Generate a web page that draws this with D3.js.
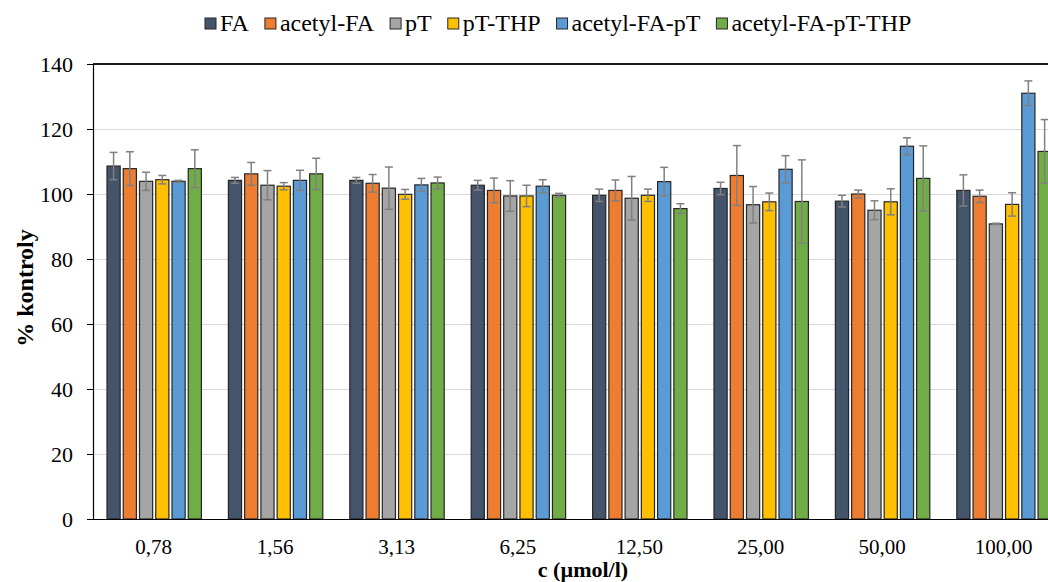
<!DOCTYPE html>
<html>
<head>
<meta charset="utf-8">
<script src="https://cdn.jsdelivr.net/npm/d3@7"></script>
<style>
  html, body { margin: 0; padding: 0; background: #fff; }
  svg { display: block; }
</style>
</head>
<body>
<svg id="chart" width="1048" height="582"></svg>
<script>
const categories = ["0,78", "1,56", "3,13", "6,25", "12,50", "25,00", "50,00", "100,00"];
const seriesNames = ["FA", "acetyl-FA", "pT", "pT-THP", "acetyl-FA-pT", "acetyl-FA-pT-THP"];
const seriesColors = ["#44546A", "#ED7D31", "#A5A5A5", "#FFC000", "#5B9BD5", "#70AD47"];

const valFA        = [108.6, 104.2, 104.2, 102.7,  99.6, 101.7,  97.8, 101.1];
const valAcFA      = [107.8, 106.2, 103.3, 101.1, 101.1, 105.7, 100.0,  99.3];
const valPT        = [103.9, 102.7, 101.8,  99.4,  98.7,  96.7,  95.0,  90.8];
const valPTTHP     = [104.4, 102.4,  99.9,  99.4,  99.6,  97.6,  97.6,  96.8];
const valAcFApT    = [103.9, 104.2, 102.8, 102.4, 103.8, 107.6, 114.7, 131.0];
const valAcFApTTHP = [107.8, 106.2, 103.4,  99.6,  95.5,  97.7, 104.8, 113.1];

const errFA        = [4.2, 0.9, 0.9, 1.5, 1.9, 1.9, 1.8, 4.8];
const errAcFA      = [5.2, 3.5, 2.7, 3.8, 3.2, 9.2, 1.2, 1.9];
const errPT        = [2.8, 4.5, 6.5, 4.7, 6.7, 5.6, 2.9, 0.2];
const errPTTHP     = [1.3, 1.1, 1.5, 3.3, 1.9, 2.7, 4.0, 3.6];
const errAcFApT    = [0.3, 3.1, 2.0, 2.0, 4.4, 4.2, 2.6, 3.8];
const errAcFApTTHP = [5.8, 4.8, 1.8, 0.6, 1.5, 12.8, 10.0, 9.8];

const yTicks = [0, 20, 40, 60, 80, 100, 120, 140];

const values = [valFA, valAcFA, valPT, valPTTHP, valAcFApT, valAcFApTTHP];
const errors = [errFA, errAcFA, errPT, errPTTHP, errAcFApT, errAcFApTTHP];

const FONT = "'Liberation Serif', 'Times New Roman', serif";
const svg = d3.select("#chart");
const mLeft = 93, mTop = 64, mBottom = 519;
const bandW = 121.4;
const mRight = mLeft + categories.length * bandW;

const x0 = d3.scaleBand().domain(categories).range([mLeft, mRight]).padding(0);
const x1 = d3.scaleBand().domain(seriesNames).range([14, bandW - 13]).paddingInner(0.19).paddingOuter(0);
const y = d3.scaleLinear().domain([0, 140]).range([mBottom, mTop]);
const color = d3.scaleOrdinal().domain(seriesNames).range(seriesColors);

// gridlines
svg.append("g").selectAll("line").data(yTicks.filter(t => t > 0 && t < 140)).join("line")
  .attr("x1", mLeft).attr("x2", 1048)
  .attr("y1", d => Math.round(y(d)) + 0.5).attr("y2", d => Math.round(y(d)) + 0.5)
  .attr("stroke", "#d9d9d9").attr("stroke-width", 1);

// top border
svg.append("line").attr("x1", mLeft).attr("x2", 1048)
  .attr("y1", y(140)).attr("y2", y(140))
  .attr("stroke", "#1a1a1a").attr("stroke-width", 2);

// bars
const rows = [];
categories.forEach((c, ci) => {
  seriesNames.forEach((s, si) => {
    rows.push({ cat: c, ser: s, v: values[si][ci], e: errors[si][ci] });
  });
});

const g = svg.append("g");
g.selectAll("rect.bar").data(rows).join("rect")
  .attr("class", "bar")
  .attr("x", d => x0(d.cat) + x1(d.ser))
  .attr("y", d => y(d.v))
  .attr("width", x1.bandwidth())
  .attr("height", d => y(0) - y(d.v))
  .attr("fill", d => color(d.ser))
  .attr("stroke", "#262626")
  .attr("stroke-width", 1.2);

// error bars
const eg = svg.append("g").attr("stroke", "#808080").attr("stroke-width", 1.5);
rows.forEach(d => {
  const cx = x0(d.cat) + x1(d.ser) + x1.bandwidth() / 2;
  const y1 = y(d.v + d.e), y2 = y(d.v - d.e);
  eg.append("line").attr("x1", cx).attr("x2", cx).attr("y1", y1).attr("y2", y2);
  eg.append("line").attr("x1", cx - 4).attr("x2", cx + 4).attr("y1", y1).attr("y2", y1);
  eg.append("line").attr("x1", cx - 4).attr("x2", cx + 4).attr("y1", y2).attr("y2", y2);
});

// y axis
const yAxis = d3.axisLeft(y).tickValues(yTicks).tickSize(6).tickPadding(14).tickFormat(d3.format("d"));
const ya = svg.append("g").attr("transform", `translate(${mLeft},0)`).call(yAxis);
ya.attr("font-family", null);
ya.select(".domain").attr("stroke", "#000").attr("stroke-width", 1.2);
ya.selectAll(".tick line").attr("stroke", "#000");
ya.selectAll(".tick text").style("font-size", "22px").attr("fill", "#000")
  .style("font-family", FONT);

// x axis
const xAxis = d3.axisBottom(x0).tickSize(0).tickPadding(20);
const xa = svg.append("g").attr("transform", `translate(0,${mBottom})`).call(xAxis);
xa.attr("font-family", null);
xa.select(".domain").attr("stroke", "#000").attr("stroke-width", 1.2);
xa.selectAll(".tick text").style("font-size", "21px").attr("fill", "#000")
  .style("font-family", FONT);

// axis titles
svg.append("text").attr("x", 583).attr("y", 577)
  .attr("text-anchor", "middle").style("font-size", "22px").style("font-weight", "bold")
  .style("font-family", FONT)
  .text("c (µmol/l)");
svg.append("text").attr("transform", "translate(33,288) rotate(-90)")
  .attr("text-anchor", "middle").style("font-size", "24px").style("font-weight", "bold")
  .style("font-family", FONT)
  .text("% kontroly");

// legend
const lg = svg.append("g");
let lx = 205;
seriesNames.forEach((s, i) => {
  lg.append("rect").attr("x", lx).attr("y", 18).attr("width", 11).attr("height", 11)
    .attr("fill", seriesColors[i]).attr("stroke", "#262626").attr("stroke-width", 1);
  const t = lg.append("text").attr("x", lx + 15).attr("y", 31)
    .style("font-size", "24px").style("font-family", FONT).text(s);
  lx += 15 + t.node().getComputedTextLength() + 16;
});
</script>
</body>
</html>
